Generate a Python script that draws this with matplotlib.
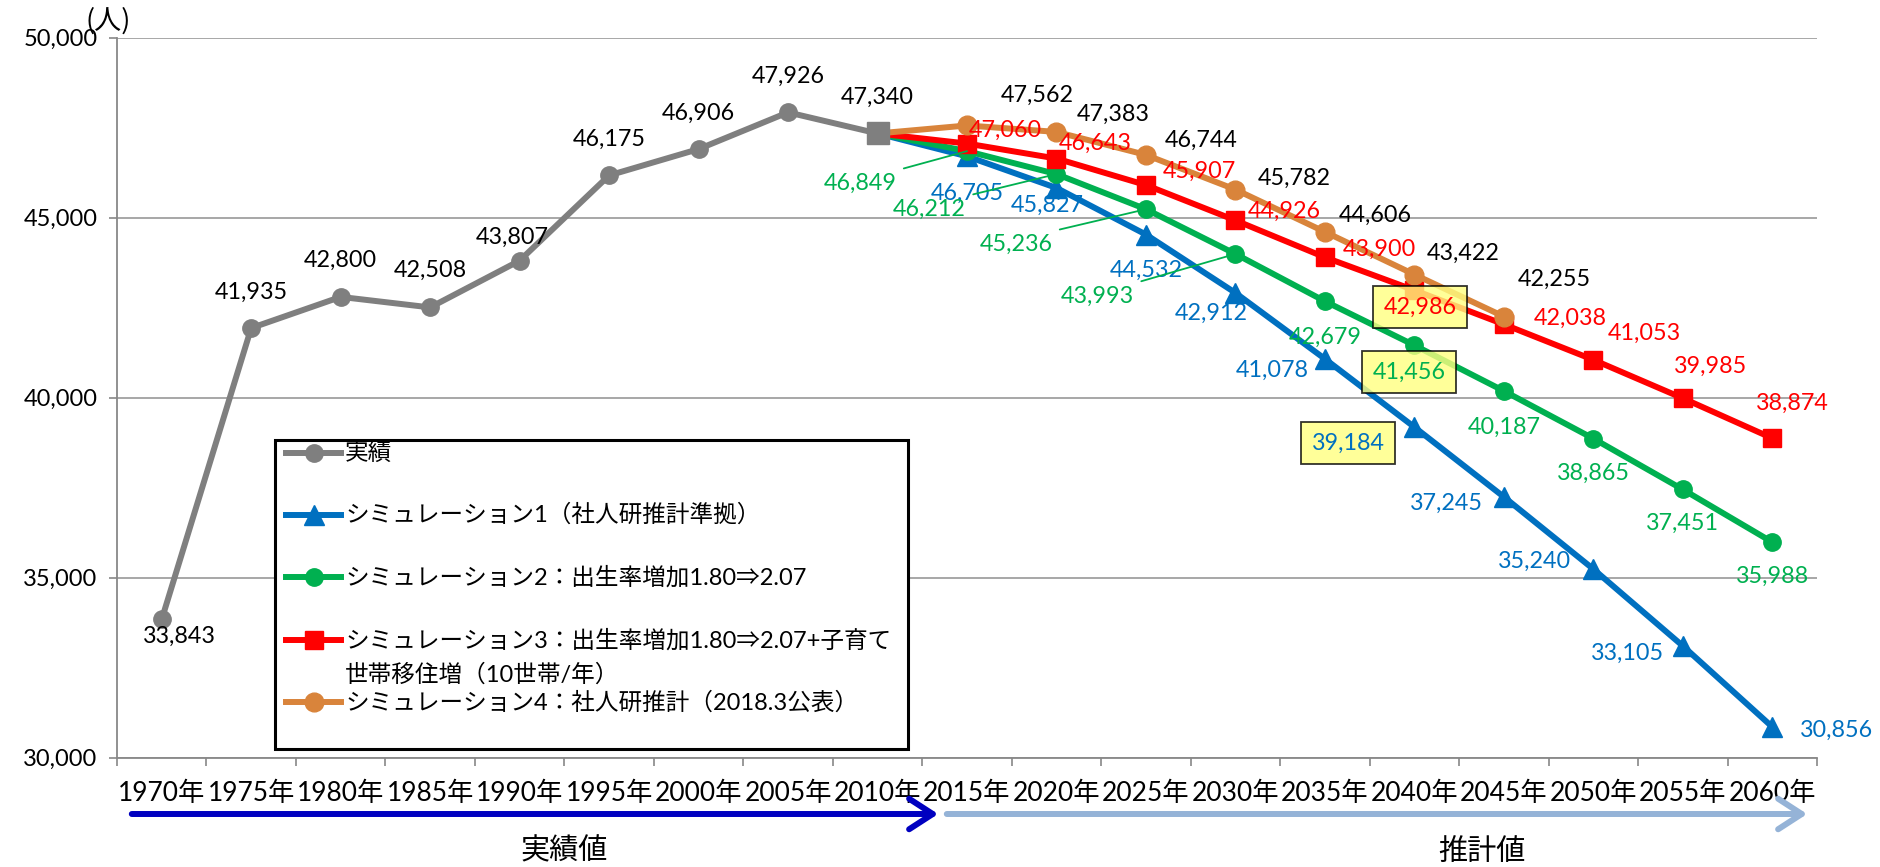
import matplotlib
matplotlib.use('Agg')
import matplotlib.pyplot as plt
from matplotlib.patches import Rectangle, FancyArrowPatch

plt.rcParams['font.family'] = ['Lato', 'Noto Sans CJK JP', 'DejaVu Sans']

# ---------------- data ----------------
years = ['1970年', '1975年', '1980年', '1985年', '1990年', '1995年', '2000年',
         '2005年', '2010年', '2015年', '2020年', '2025年', '2030年', '2035年',
         '2040年', '2045年', '2050年', '2055年', '2060年']
actual = [33843, 41935, 42800, 42508, 43807, 46175, 46906, 47926, 47340]       # 1970-2010
sim1 = [47340, 46705, 45827, 44532, 42912, 41078, 39184, 37245, 35240, 33105, 30856]  # 2010-2060
sim2 = [47340, 46849, 46212, 45236, 43993, 42679, 41456, 40187, 38865, 37451, 35988]
sim3 = [47340, 47060, 46643, 45907, 44926, 43900, 42986, 42038, 41053, 39985, 38874]
sim4 = [47340, 47562, 47383, 46744, 45782, 44606, 43422, 42255]                # 2010-2045
labels = ['実績',
          'シミュレーション1（社人研推計準拠）',
          'シミュレーション2：出生率増加1.80⇒2.07',
          'シミュレーション3：出生率増加1.80⇒2.07+子育て\n世帯移住増（10世帯/年）',
          'シミュレーション4：社人研推計（2018.3公表）']
yticks = [30000, 35000, 40000, 45000, 50000]

# ---------------- styles / label layout (pixels, screen-down positive) ----------------
c_gray, c_blue, c_green, c_red, c_orange = '#7F7F7F', '#0070C0', '#00B050', '#FF0000', '#D9843B'
off_actual = [(18, 17), (0, -36), (0, -37), (0, -37), (-7, -23), (0, -36), (0, -36), (0, -36), (0, -36)]
off_sim1 = [(0, 37), (-9, 17), (0, 36), (-24, 20), (-53, 11), (-66, 16), (-57, 6), (-59, -8), (-55, 7), (64, 3)]
off_sim2 = [(-107, 32), (-127, 35), (-130, 35), (-138, 42), (0, 36), (-5, 27), (0, 36), (0, 35), (0, 34), (0, 34)]
off_sim3 = [(38, -13), (39, -15), (53, -14), (49, -9), (55, -8), (6, 17), (66, -6), (51, -26), (28, -32), (20, -35)]
off_sim4 = [(70, -30), (57, -18), (55, -15), (59, -11), (50, -17), (49, -21), (51, -37)]
boxed = 6          # index (2040) of boxed labels
leaders = [1, 2, 3, 4]

W, H = 1881, 867
fig = plt.figure(figsize=(W / 100, H / 100), dpi=100)
ax = fig.add_axes([117 / W, 1 - 757.7 / H, 1700 / W, 720 / H])

LW = 4.3
x_act = list(range(len(actual)))
x_sim = lambda s: list(range(8, 8 + len(s)))

ax.plot(x_sim(sim1), sim1, color=c_blue, lw=LW, marker='^', ms=14, markevery=list(range(1, len(sim1))), zorder=3)
ax.plot(x_sim(sim2), sim2, color=c_green, lw=LW, marker='o', ms=12.5, markevery=list(range(1, len(sim2))), zorder=4)
ax.plot(x_sim(sim3), sim3, color=c_red, lw=LW, marker='s', ms=12.5, markevery=list(range(1, len(sim3))), zorder=5)
ax.plot(x_sim(sim4), sim4, color=c_orange, lw=LW, marker='o', ms=13.5, markevery=list(range(1, len(sim4))), zorder=6)
ax.plot(x_act, actual, color=c_gray, lw=LW, marker='o', ms=12.5, markevery=list(range(len(actual) - 1)), zorder=7)
ax.plot([x_act[-1]], [actual[-1]], color=c_gray, marker='s', ms=16.5, ls='none', zorder=8)

FS = 16.8


def lab(x, y, off, color, box=False, leader=False):
    kw = dict(textcoords='offset pixels', ha='center', va='center', fontsize=FS, color=color, zorder=12)
    if box:
        kw['bbox'] = dict(boxstyle='square,pad=0.45', fc='#FFFF80', ec='black', lw=1.3, alpha=0.8)
    if leader:
        kw['arrowprops'] = dict(arrowstyle='-', color=color, lw=1.3, shrinkA=0, shrinkB=0, relpos=(1.1, 1.2))
    ax.annotate(f'{y:,}', (x, y), xytext=(off[0], -off[1]), **kw)


for i, v in enumerate(actual):
    lab(x_act[i], v, off_actual[i], 'black')
for s, offs, col in [(sim1, off_sim1, c_blue), (sim2, off_sim2, c_green), (sim3, off_sim3, c_red), (sim4, off_sim4, 'black')]:
    xs = x_sim(s)
    for i in range(1, len(s)):
        lab(xs[i], s[i], offs[i - 1], col, box=(i == boxed and s is not sim4),
            leader=(s is sim2 and i in leaders))

ax.set_xlim(-0.5, len(years) - 0.5)
ax.set_ylim(30000, 50000)
ax.set_yticks(yticks)
ax.set_yticklabels([f'{t:,}' for t in yticks], fontsize=17)
ax.set_xticks(range(len(years)))
ax.set_xticklabels(years, fontsize=19)
ax.set_xticks([i - 0.5 for i in range(len(years) + 1)], minor=True)
ax.tick_params(axis='x', which='major', length=0, pad=17)
ax.tick_params(axis='x', which='minor', length=6, width=1.2, color='#888888', direction='out')
ax.tick_params(axis='y', length=6, width=1.2, color='#888888', direction='out', pad=8)
ax.grid(axis='y', color='#A0A0A0', lw=1.3)
ax.set_axisbelow(True)
for sp in ['top', 'right']:
    ax.spines[sp].set_visible(False)
for sp in ['left', 'bottom']:
    ax.spines[sp].set_color('#888888')
    ax.spines[sp].set_linewidth(1.3)

# ---------------- overlay (legend, arrows, captions) in pixel coordinates ----------------
lax = fig.add_axes([0, 0, 1, 1], zorder=20)
lax.set_xlim(0, W)
lax.set_ylim(H, 0)
lax.axis('off')

lax.add_patch(Rectangle((275, 440), 633, 309, fc='white', ec='black', lw=2.2))
handles = [(c_gray, 'o', 12.5), (c_blue, '^', 14), (c_green, 'o', 12.5), (c_red, 's', 12.5), (c_orange, 'o', 13.5)]
ys = [453, 515, 577, 640, 702]
for (col, mk, ms), y, text in zip(handles, ys, labels):
    lax.plot([286, 313.5, 341], [y, y, y], color=col, lw=LW, marker=mk, ms=ms, markevery=[1])
    for k, line in enumerate(text.split('\n')):
        lax.text(345, y + 35 * k, line, fontsize=17, va='center', ha='left')

lax.text(85, 21, '(人)', fontsize=19.5, ha='left', va='center', family=['Noto Sans CJK JP'])

lax.add_patch(FancyArrowPatch((129, 814), (941, 814), arrowstyle='->,head_length=17,head_width=11',
                              mutation_scale=1, lw=4.3, color='#0000C0'))
lax.add_patch(FancyArrowPatch((944, 814), (1810, 814), arrowstyle='->,head_length=17,head_width=11',
                              mutation_scale=1, lw=4.3, color='#95B3D7'))
lax.text(564, 851, '実績値', fontsize=21, ha='center', va='center')
lax.text(1482, 851, '推計値', fontsize=21, ha='center', va='center')

fig.savefig('out.png', dpi=100)
